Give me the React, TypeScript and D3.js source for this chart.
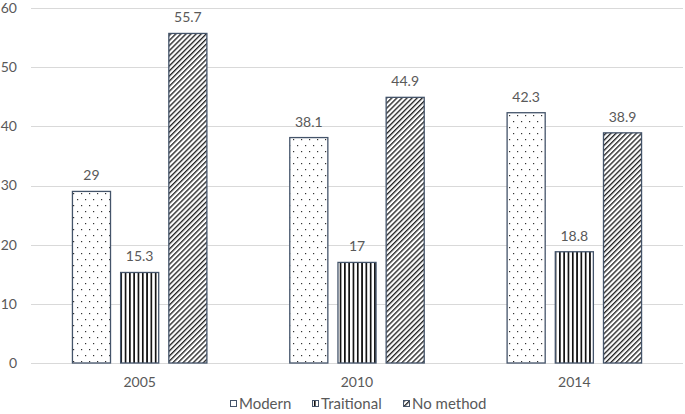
import React, { useEffect, useRef } from "react";
import * as d3 from "d3";

const years = ["2005", "2010", "2014"];
const series = ["Modern", "Traitional", "No method"];
const modern = [29, 38.1, 42.3];
const traditional = [15.3, 17, 18.8];
const noMethod = [55.7, 44.9, 38.9];
const yTicks = [0, 10, 20, 30, 40, 50, 60];

const W = 685;
const H = 414;
const TEXT = "#595959";
const EDGE = "#44546A";
const FONT = "Lato, 'Open Sans', sans-serif";

export default function App() {
  const ref = useRef<SVGSVGElement>(null);

  useEffect(() => {
    if (!ref.current) return;
    const svg = d3.select(ref.current);
    svg.selectAll("*").remove();

    const values = [modern, traditional, noMethod];
    const margin = { left: 31, right: 2, top: 8, bottom: 51 };

    const x = d3.scaleBand().domain(years).range([margin.left, W - margin.right]);
    const xs = d3.scaleBand().domain(series).range([0, x.bandwidth()]).paddingInner(0.21).paddingOuter(0.86);
    const y = d3.scaleLinear().domain([0, 60]).range([H - margin.bottom, margin.top]);

    // patterns
    const defs = svg.append("defs");
    const dots = defs.append("pattern").attr("id", "p-dots").attr("patternUnits", "userSpaceOnUse")
      .attr("width", 8).attr("height", 12);
    dots.append("rect").attr("width", 8).attr("height", 12).attr("fill", "#fff");
    dots.append("rect").attr("x", 1).attr("y", 1).attr("width", 1.2).attr("height", 1.2).attr("fill", "#333");
    dots.append("rect").attr("x", 5).attr("y", 7).attr("width", 1.2).attr("height", 1.2).attr("fill", "#333");

    const vert = defs.append("pattern").attr("id", "p-vert").attr("patternUnits", "userSpaceOnUse")
      .attr("width", 4.3).attr("height", 4);
    vert.append("rect").attr("width", 4.3).attr("height", 4).attr("fill", "#fff");
    vert.append("rect").attr("x", 0).attr("width", 1.7).attr("height", 4).attr("fill", "#111");

    const diag = defs.append("pattern").attr("id", "p-diag").attr("patternUnits", "userSpaceOnUse")
      .attr("width", 3.6).attr("height", 3.6).attr("patternTransform", "rotate(45)");
    diag.append("rect").attr("width", 3.6).attr("height", 3.6).attr("fill", "#fff");
    diag.append("rect").attr("x", 0).attr("width", 1.35).attr("height", 3.6).attr("fill", "#222");

    const fills = ["url(#p-dots)", "url(#p-vert)", "url(#p-diag)"];

    // grid
    svg.append("g").selectAll("line").data(yTicks).enter().append("line")
      .attr("x1", margin.left).attr("x2", W - margin.right)
      .attr("y1", (d) => Math.round(y(d)) + 0.5).attr("y2", (d) => Math.round(y(d)) + 0.5)
      .attr("stroke", "#d9d9d9").attr("stroke-width", 1);

    svg.append("g").selectAll("text").data(yTicks).enter().append("text")
      .attr("x", 17).attr("y", (d) => y(d)).attr("dy", "0.35em")
      .attr("text-anchor", "end").attr("font-family", FONT).attr("font-size", 14).attr("fill", TEXT)
      .text((d) => d);

    // bars
    series.forEach((s, si) => {
      const g = svg.append("g");
      years.forEach((yr, i) => {
        const v = values[si][i];
        const bx = (x(yr) as number) + (xs(s) as number);
        g.append("rect")
          .attr("x", bx).attr("y", y(v))
          .attr("width", xs.bandwidth()).attr("height", y(0) - y(v))
          .attr("fill", fills[si]).attr("stroke", EDGE).attr("stroke-width", 1.3);
        g.append("text")
          .attr("x", bx + xs.bandwidth() / 2).attr("y", y(v) - 11)
          .attr("text-anchor", "middle").attr("font-family", FONT).attr("font-size", 14).attr("fill", TEXT)
          .text(v);
      });
    });

    // x labels
    svg.append("g").selectAll("text").data(years).enter().append("text")
      .attr("x", (d) => (x(d) as number) + x.bandwidth() / 2).attr("y", 387)
      .attr("text-anchor", "middle").attr("font-family", FONT).attr("font-size", 14).attr("fill", TEXT)
      .text((d) => d);

    // legend
    const legendX = [230, 312, 403];
    series.forEach((s, si) => {
      const lx = legendX[si];
      svg.append("rect").attr("x", lx + 0.5).attr("y", 400.5).attr("width", 6).attr("height", 6)
        .attr("fill", fills[si]).attr("stroke", EDGE).attr("stroke-width", 1);
      svg.append("text").attr("x", lx + 9).attr("y", 403.5).attr("dy", "0.35em")
        .attr("font-family", FONT).attr("font-size", 15).attr("fill", TEXT).text(s);
    });
  }, []);

  return (
    <div style={{ position: "fixed", left: 0, top: 0, width: W, height: H, background: "#fff" }}>
      <svg ref={ref} width={W} height={H} style={{ display: "block" }} />
    </div>
  );
}
